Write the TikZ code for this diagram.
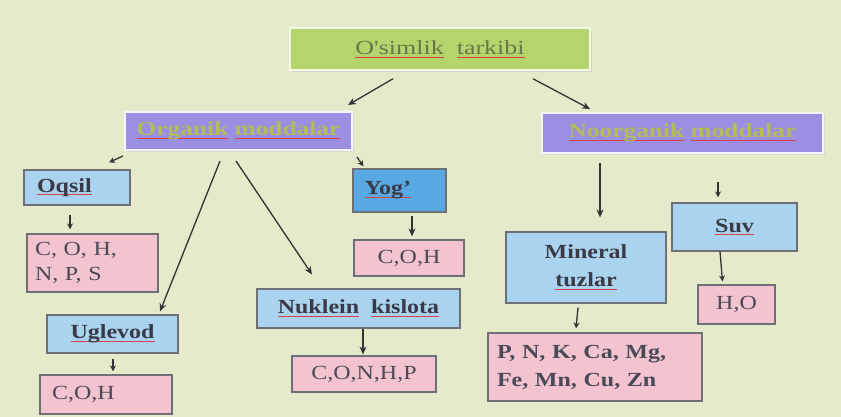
\documentclass[tikz,border=0pt]{standalone}
\usepackage{fontspec}
\setmainfont{Liberation Serif}[FakeStretch=1.2]
\newfontfamily\purplefont{Liberation Serif}[FakeStretch=1.27]
\newfontfamily\topfont{Liberation Serif}[FakeStretch=1.3]
\usetikzlibrary{calc,arrows.meta,shadows}
\definecolor{bgc}{HTML}{E6EACB}
\definecolor{greenbox}{HTML}{B6D46C}
\definecolor{greentext}{HTML}{66774A}
\definecolor{purplebox}{HTML}{9A8FE3}
\definecolor{purpletext}{HTML}{B3BC58}
\definecolor{bluebox}{HTML}{A9D3EF}
\definecolor{darkblue}{HTML}{58A8E2}
\definecolor{pinkbox}{HTML}{F3C3CF}
\definecolor{edgec}{HTML}{6E7078}
\definecolor{textc}{HTML}{3A3A46}
\definecolor{pinktext}{HTML}{4A4A56}
\definecolor{arrc}{HTML}{333333}
\definecolor{squig}{HTML}{D8404A}
\newsavebox{\sqwbox}
\newcommand\sqw[1]{\leavevmode\sbox{\sqwbox}{#1}\rlap{\textcolor{squig}{\rule[-3pt]{\wd\sqwbox}{0.9pt}}}\usebox{\sqwbox}}
\tikzset{
  x=1pt,y=-1pt,
  basebox/.style={rectangle,inner sep=0pt,font=\fontsize{20}{24}\selectfont\bfseries,text=textc},
  topbox/.style={basebox,fill=greenbox,draw=white!85!greenbox,line width=1.5pt,
     drop shadow={shadow xshift=2pt,shadow yshift=-2pt,fill=black!25},
     text=greentext,font=\fontsize{20}{24}\topfont},
  purplebx/.style={basebox,fill=purplebox,draw=white!90!purplebox,line width=2pt,
     drop shadow={shadow xshift=2pt,shadow yshift=-2pt,fill=black!20},text=purpletext,
     font=\fontsize{20}{24}\purplefont\bfseries},
  bluebx/.style={basebox,fill=bluebox,draw=edgec,line width=1.2pt},
  dbluebx/.style={basebox,fill=darkblue,draw=edgec,line width=1.2pt},
  pinkbx/.style={basebox,fill=pinkbox,draw=edgec,line width=1.2pt,text=pinktext,font=\fontsize{20}{25}\selectfont},
  arr/.style={draw=arrc,line width=1.3pt,-{Stealth[length=8pt,width=7pt]}},
  sarr/.style={draw=arrc,line width=1.3pt,-{Stealth[length=6pt,width=6pt]}}
}
\begin{document}
\begin{tikzpicture}
\fill[bgc] (0,0) rectangle (841,417);
\useasboundingbox (0,0) rectangle (841,417);

% level 1
\node[topbox,minimum width=300pt,minimum height=42pt] (top) at (440,49) {\sqw{O'simlik}\ \ \sqw{tarkibi}};

% level 2
\node[purplebx,minimum width=227pt,minimum height=38pt] (org) at (238.5,131) {\sqw{Organik} \sqw{moddalar}};
\node[purplebx,minimum width=281pt,minimum height=40pt] (noorg) at (682.5,133) {\sqw{Noorganik} \sqw{moddalar}};

% organic branch
\node[bluebx,minimum width=106pt,minimum height=35pt,text width=80pt,align=left] (oqsil) at (77,187.5) {\sqw{Oqsil}};
\node[pinkbx,minimum width=131pt,minimum height=58pt,text width=115pt,align=left] (cohnps) at (92.5,263) {C, O, H,\\N, P, S};
\node[bluebx,minimum width=131pt,minimum height=38pt] (uglevod) at (112.5,334) {\sqw{Uglevod}};
\node[pinkbx,minimum width=132pt,minimum height=39pt,text width=108pt,align=left] (coh1) at (106,394.5) {C,O,H};

\node[dbluebx,minimum width=93pt,minimum height=43pt,text width=70pt,align=left] (yog) at (399.5,190.5) {\sqw{Yog’}};
\node[pinkbx,minimum width=110pt,minimum height=36pt] (coh2) at (409,258) {C,O,H};
\node[bluebx,minimum width=203pt,minimum height=39pt] (nuk) at (358.5,308.5) {\sqw{Nuklein}\ \ \sqw{kislota}};
\node[pinkbx,minimum width=144pt,minimum height=36pt] (conhp) at (364,374) {C,O,N,H,P};

% inorganic branch
\node[bluebx,minimum width=160pt,minimum height=71pt,align=center,font=\fontsize{20}{28}\selectfont\bfseries] (mineral) at (586,267.5) {Mineral\\\sqw{tuzlar}};
\node[pinkbx,minimum width=214pt,minimum height=68pt,text width=196pt,align=left,font=\fontsize{20}{28}\selectfont\bfseries] (pnk) at (595,367) {P, N, K, Ca, Mg,\\Fe, Mn, Cu, Zn};
\node[bluebx,minimum width=125pt,minimum height=48pt] (suv) at (734.5,227) {\sqw{Suv}};
\node[pinkbx,minimum width=77pt,minimum height=39pt] (h2o) at (736.5,304.5) {H,O};

% connectors
\draw[arr] ($(top.south)+(-47,8)$) -- ($(org.north)+(109.5,-6)$);
\draw[arr] ($(top.south)+(93,8)$) -- ($(noorg.north)+(-92.5,-3)$);
\draw[sarr] ($(org.south west)+(-1,5)$) -- ($(oqsil.north)+(32,-7)$);
\draw[arr] ($(org.south)+(-18.5,10)$) -- ($(uglevod.north)+(47.5,-3)$);
\draw[arr] ($(org.south)+(-2.5,10)$) -- ($(nuk.north)+(-46.5,-14)$);
\draw[sarr] ($(org.south east)+(4,6)$) -- ($(yog.north west)+(11,-2)$);
\draw[arr] ($(noorg.south)+(-82.5,9)$) -- ($(mineral.north)+(14,-14)$);
\draw[sarr] ($(suv.north)+(-16.5,-20)$) -- ($(suv.north)+(-16.5,-5)$);
\draw[sarr] ($(oqsil.south)+(-7,9)$) -- ($(cohnps.north)+(-22.5,-4)$);
\draw[sarr] ($(uglevod.south)+(0.5,5)$) -- ($(coh1.north)+(7,-3)$);
\draw[arr] ($(yog.south)+(12.5,3)$) -- ($(coh2.north)+(3,-3)$);
\draw[arr] ($(nuk.south)+(4.5,0)$) -- ($(conhp.north)+(-1,-1)$);
\draw[sarr] ($(suv.south)+(-14.5,0)$) -- ($(h2o.north)+(-14,-3)$);
\draw[sarr] ($(mineral.south)+(-8,4)$) -- ($(pnk.north)+(-19,-4)$);
\end{tikzpicture}
\end{document}
